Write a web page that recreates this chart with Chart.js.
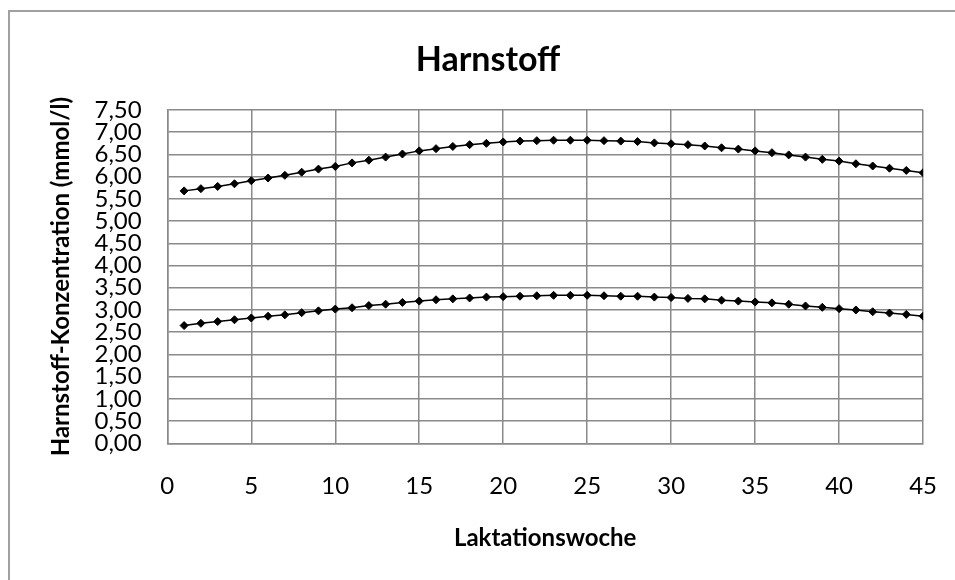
<!DOCTYPE html>
<html lang="de">
<head>
<meta charset="utf-8">
<title>Harnstoff</title>
<script src="https://cdn.jsdelivr.net/npm/chart.js@4"></script>
<style>
    html, body { margin: 0; padding: 0; background: #fff; overflow: hidden; }
    #frame {
        position: absolute;
        left: 8px;
        top: 10px;
        border-left: 2px solid #a0a0a0;
        border-top: 2px solid #a0a0a0;
    }
    canvas { display: block; }
</style>
</head>
<body>
<div id="frame"><canvas id="ureaChart" width="956" height="600"></canvas></div>
<script>
// Laktationswochen (x) und die beiden Kurven der Harnstoff-Konzentration
const weeks = [1, 2, 3, 4, 5, 6, 7, 8, 9, 10, 11, 12, 13, 14, 15, 16, 17, 18, 19, 20, 21, 22, 23,
    24, 25, 26, 27, 28, 29, 30, 31, 32, 33, 34, 35, 36, 37, 38, 39, 40, 41, 42, 43, 44, 45];

const upperCurve = [5.68, 5.73, 5.78, 5.84, 5.91, 5.97, 6.03, 6.10, 6.17, 6.23, 6.31, 6.37, 6.44,
    6.51, 6.58, 6.63, 6.68, 6.72, 6.75, 6.78, 6.80, 6.81, 6.82, 6.82, 6.82, 6.81, 6.80, 6.79,
    6.76, 6.74, 6.72, 6.69, 6.65, 6.62, 6.58, 6.54, 6.49, 6.44, 6.39, 6.35, 6.29, 6.24, 6.19,
    6.14, 6.09];

const lowerCurve = [2.65, 2.70, 2.74, 2.78, 2.82, 2.86, 2.89, 2.94, 2.98, 3.02, 3.05, 3.10, 3.13,
    3.17, 3.20, 3.23, 3.25, 3.27, 3.29, 3.30, 3.31, 3.32, 3.33, 3.33, 3.33, 3.32, 3.31, 3.31,
    3.29, 3.28, 3.26, 3.25, 3.22, 3.20, 3.18, 3.16, 3.13, 3.09, 3.06, 3.03, 3.00, 2.96, 2.93,
    2.90, 2.86];

const chartTitle = 'Harnstoff';
const xTitle = 'Laktationswoche';
const yTitle = 'Harnstoff-Konzentration (mmol/l)';

const FONT = 'Lato, "Open Sans", sans-serif';
const GRID = '#8a8a8a';

const toPoints = (values) => values.map((v, i) => ({ x: weeks[i], y: v }));

const seriesStyle = {
    borderColor: '#000',
    borderWidth: 1.5,
    backgroundColor: '#000',
    pointStyle: 'rectRot',
    pointRadius: 4,
    pointBorderWidth: 1,
    pointBorderColor: '#000',
    pointBackgroundColor: '#000',
    fill: false,
    tension: 0
};

const ctx = document.getElementById('ureaChart').getContext('2d');

new Chart(ctx, {
    type: 'line',
    data: {
        datasets: [
            { label: 'oben', data: toPoints(upperCurve), ...seriesStyle },
            { label: 'unten', data: toPoints(lowerCurve), ...seriesStyle }
        ]
    },
    options: {
        responsive: false,
        animation: false,
        layout: { padding: { top: 0, left: 0, right: 0, bottom: 58.7 } },
        plugins: {
            legend: { display: false },
            tooltip: { enabled: false },
            title: {
                display: true,
                text: chartTitle,
                color: '#000',
                font: { family: FONT, size: 34, weight: 'bold' },
                padding: { top: 27.6, bottom: 29.6 }
            }
        },
        scales: {
            x: {
                type: 'linear',
                min: 0,
                max: 45,
                ticks: {
                    stepSize: 5,
                    color: '#000',
                    padding: 29,
                    maxRotation: 0,
                    font: { family: FONT, size: 24 }
                },
                grid: { color: GRID, lineWidth: 1.5, drawTicks: false },
                border: { color: GRID, width: 1.5 },
                title: {
                    display: true,
                    text: xTitle,
                    color: '#000',
                    font: { family: FONT, size: 24, weight: 'bold' },
                    padding: { top: 0, bottom: 0.9 }
                },
                afterFit: (scale) => { scale.height = 110; }
            },
            y: {
                min: 0,
                max: 7.5,
                ticks: {
                    stepSize: 0.5,
                    autoSkip: false,
                    color: '#000',
                    padding: 25.6,
                    font: { family: FONT, size: 24 },
                    callback: (value) => value.toFixed(2).replace('.', ',')
                },
                grid: { color: GRID, lineWidth: 1.5, drawTicks: false },
                border: { color: GRID, width: 1.5 },
                title: {
                    display: true,
                    text: yTitle,
                    color: '#000',
                    font: { family: FONT, size: 24, weight: 'bold' },
                    padding: { top: 36.6, bottom: 0 }
                },
                afterFit: (scale) => { scale.width = 157.3; }
            },
            // leerer Rand rechts neben der Zeichenfläche
            spacer: {
                position: 'right',
                display: true,
                ticks: { display: false },
                grid: { display: false, drawTicks: false },
                border: { display: false },
                afterFit: (scale) => { scale.width = 38.7; }
            }
        }
    }
});
</script>
</body>
</html>
